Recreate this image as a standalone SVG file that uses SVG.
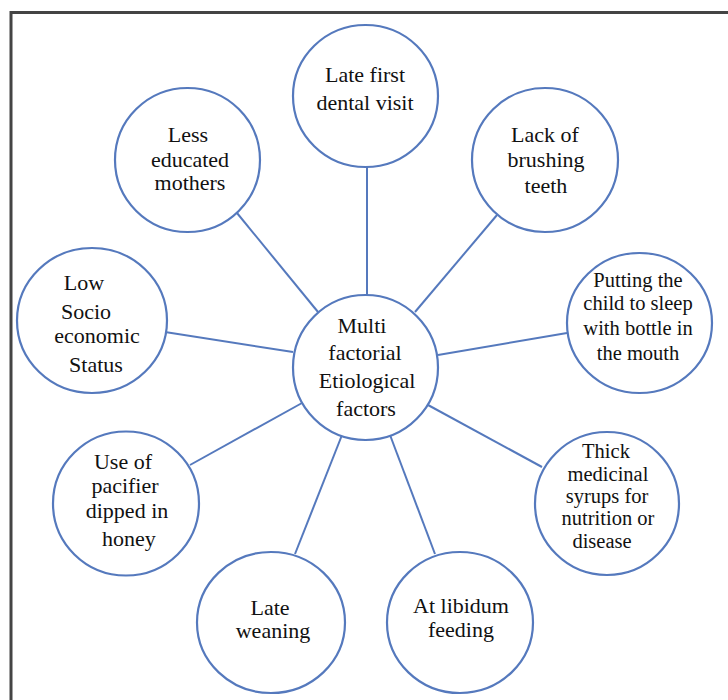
<svg xmlns="http://www.w3.org/2000/svg" width="728" height="700" viewBox="0 0 728 700">
<style>
.n{fill:#fff;stroke:#5579bd;stroke-width:2.2}
.c line{stroke:#5579bd;stroke-width:2}
text{font-family:"Liberation Serif","Times New Roman",serif;font-size:22px;fill:#111;text-anchor:middle}
.s{font-size:20.5px}
</style>
<rect width="728" height="700" fill="#fff"/>
<path d="M11 700 V12.5 H728" fill="none" stroke="#444" stroke-width="3"/>
<g class="c" id="connectors">
<line x1="367" y1="167" x2="367" y2="295"/>
<line x1="237" y1="213" x2="318" y2="312"/>
<line x1="497" y1="215" x2="415" y2="312"/>
<line x1="165" y1="332" x2="293" y2="352"/>
<line x1="567" y1="333" x2="438" y2="355"/>
<line x1="190" y1="465" x2="302" y2="403"/>
<line x1="542" y1="467" x2="428" y2="405"/>
<line x1="295" y1="554" x2="342" y2="435"/>
<line x1="435" y1="554" x2="390" y2="435"/>
</g>
<g id="center">
<ellipse class="n" cx="365.5" cy="367.5" rx="72.5" ry="72.5"/>
<text x="362" y="333">Multi</text>
<text x="365" y="360">factorial</text>
<text x="367" y="388">Etiological</text>
<text x="366" y="416">factors</text>
</g>
<g id="n-dental">
<ellipse class="n" cx="365.5" cy="96" rx="72.5" ry="71"/>
<text x="365" y="82">Late first</text>
<text x="365" y="110">dental visit</text>
</g>
<g id="n-mothers">
<ellipse class="n" cx="187.5" cy="160" rx="72.5" ry="72"/>
<text x="188" y="142">Less</text>
<text x="190" y="167">educated</text>
<text x="190" y="190">mothers</text>
</g>
<g id="n-brushing">
<ellipse class="n" cx="545" cy="160" rx="73" ry="72"/>
<text x="545" y="142">Lack of</text>
<text x="546" y="167">brushing</text>
<text x="546" y="193">teeth</text>
</g>
<g id="n-socio">
<ellipse class="n" cx="92" cy="320.5" rx="75" ry="72.5"/>
<text x="84" y="290">Low</text>
<text x="86" y="319">Socio</text>
<text x="97" y="343">economic</text>
<text x="96" y="372">Status</text>
</g>
<g id="n-bottle">
<ellipse class="n" cx="639.5" cy="323" rx="72.5" ry="70"/>
<text class="s" x="638" y="287">Putting the</text>
<text class="s" x="638" y="310">child to sleep</text>
<text class="s" x="638" y="335">with bottle in</text>
<text class="s" x="638" y="360">the mouth</text>
</g>
<g id="n-pacifier">
<ellipse class="n" cx="126" cy="503.5" rx="73" ry="72"/>
<text x="123" y="469">Use of</text>
<text x="125" y="493">pacifier</text>
<text x="127" y="518">dipped in</text>
<text x="129" y="546">honey</text>
</g>
<g id="n-syrups">
<ellipse class="n" cx="607" cy="503.5" rx="72" ry="71.5"/>
<text class="s" x="606" y="458">Thick</text>
<text class="s" x="608" y="481">medicinal</text>
<text class="s" x="607" y="503">syrups for</text>
<text class="s" x="608" y="525">nutrition or</text>
<text class="s" x="602" y="548">disease</text>
</g>
<g id="n-weaning">
<ellipse class="n" cx="271" cy="622.5" rx="74" ry="70.5"/>
<text x="270" y="615">Late</text>
<text x="273" y="638">weaning</text>
</g>
<g id="n-feeding">
<ellipse class="n" cx="460" cy="622.5" rx="73" ry="70.5"/>
<text x="461" y="613">At libidum</text>
<text x="461" y="637">feeding</text>
</g>
</svg>
